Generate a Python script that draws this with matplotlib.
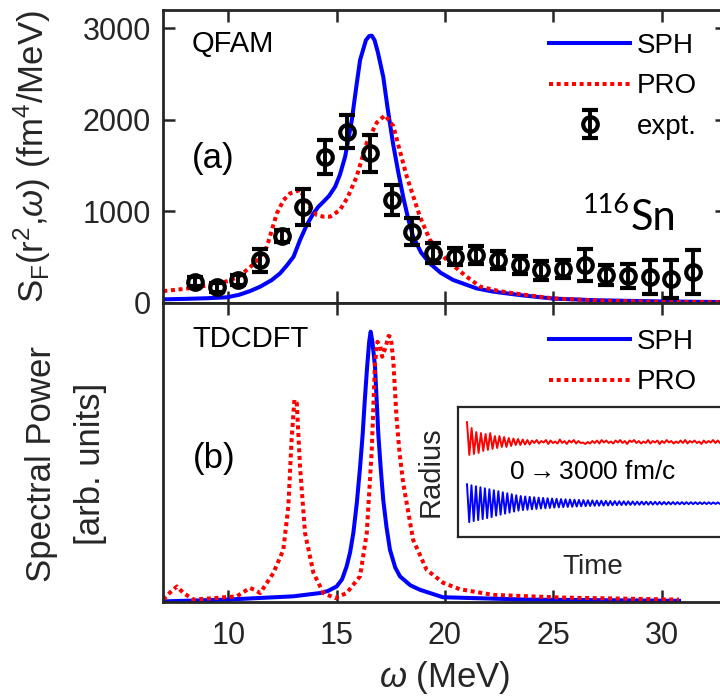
import matplotlib
matplotlib.use("Agg")
import matplotlib.pyplot as plt
import numpy as np

plt.rcParams['font.family'] = ['Liberation Sans', 'DejaVu Sans']
plt.rcParams['mathtext.fontset'] = 'custom'
plt.rcParams['mathtext.rm'] = 'Liberation Sans'
plt.rcParams['mathtext.it'] = 'Liberation Sans:italic'
plt.rcParams['mathtext.bf'] = 'Liberation Sans:bold'

# --- panel (a): QFAM strength functions and experiment ---
sph_a_x = [7.0, 8.0, 9.0, 9.93, 10.5, 11.0, 11.47, 12.0, 12.39, 12.7, 13.01, 13.31, 13.62,
           13.93, 14.15, 14.39, 14.65, 14.93, 15.15, 15.39, 15.55, 15.70, 15.9, 16.08, 16.35,
           16.5, 16.62, 16.75, 16.9, 17.15, 17.35, 17.6, 17.85, 18.07, 18.3, 18.53, 18.9,
           19.3, 19.8, 20.38, 21.45, 22.2, 23.5, 25.0, 27.0, 29.8, 33.0]
sph_a_y = [40, 45, 52, 62, 90, 130, 178, 250, 324, 410, 505, 688, 852,
           979, 1050, 1106, 1170, 1270, 1400, 1597, 1800, 1998, 2350, 2653, 2870,
           2915, 2920, 2870, 2740, 2471, 2130, 1743, 1420, 1160, 920, 724, 550,
           433, 330, 251, 160, 125, 85, 48, 30, 18, 10]

pro_a_x = [7.0, 8.0, 9.0, 10.0, 10.5, 11.0, 11.4, 11.78, 12.24, 12.55, 12.85, 13.3,
           13.77, 14.08, 14.39, 14.7, 15.15, 15.5, 15.92, 16.39, 16.85, 17.23, 17.61,
           18.23, 18.84, 19.3, 20.07, 21.0, 21.63, 22.5, 23.5, 25.0, 27.0, 30.0, 33.0]
pro_a_y = [130, 155, 190, 240, 290, 390, 480, 615, 979, 1124, 1197, 1233,
           1051, 961, 943, 943, 1015, 1150, 1379, 1750, 1970, 2050, 1935,
           1385, 945, 690, 470, 287, 178, 130, 95, 50, 28, 12, 8]

expt_x = [8.47, 9.47, 10.47, 11.47, 12.47, 13.46, 14.47, 15.47, 16.54, 17.54, 18.46, 19.45,
          20.45, 21.45, 22.45, 23.45, 24.45, 25.45, 26.45, 27.45, 28.45, 29.44, 30.44, 31.44]
expt_y = [233, 171, 251, 469, 731, 1051, 1597, 1870, 1634, 1124, 778, 543,
          505, 524, 469, 415, 355, 375, 415, 305, 295, 285, 265, 342]
expt_err = [50, 50, 55, 125, 70, 195, 185, 180, 200, 165, 145, 110,
            95, 95, 100, 100, 100, 100, 170, 110, 130, 190, 210, 240]

# --- panel (b): TDCDFT spectral power (arb. units) ---
sph_b_x = [7.0, 9.93, 13.0, 14.23, 14.6, 15.0, 15.25, 15.46, 15.62, 15.77, 15.93, 16.08,
           16.2, 16.3, 16.4, 16.5, 16.57, 16.65, 16.77, 16.85, 16.92, 17.03, 17.15, 17.3,
           17.46, 17.7, 17.92, 18.4, 18.84, 19.9, 23.76, 30.8]
sph_b_y = [0.001, 0.007, 0.018, 0.029, 0.036, 0.051, 0.075, 0.118, 0.165, 0.23, 0.33, 0.45,
           0.56, 0.676, 0.78, 0.87, 0.904, 0.87, 0.787, 0.67, 0.564, 0.45, 0.341, 0.25,
           0.174, 0.115, 0.085, 0.055, 0.04, 0.015, 0.007, 0.003]

pro_b_x = [7.0, 7.3, 7.63, 7.93, 8.4, 9.32, 10.39, 11.0, 11.2, 11.47, 12.08, 12.54, 12.77,
           12.92, 13.05, 13.16, 13.31, 13.54, 13.93, 14.39, 14.93, 15.46, 16.08, 16.39,
           16.62, 16.77, 16.88, 17.0, 17.1, 17.25, 17.4, 17.5, 17.62, 17.76, 17.9, 18.07,
           18.53, 19.15, 19.92, 20.68, 22.2, 25.3, 30.8]
pro_b_y = [0.007, 0.03, 0.051, 0.029, 0.007, 0.012, 0.018, 0.046, 0.04, 0.029, 0.096, 0.174, 0.319,
           0.542, 0.676, 0.665, 0.452, 0.23, 0.096, 0.029, 0.012, 0.029, 0.085, 0.23,
           0.508, 0.80, 0.87, 0.86, 0.82, 0.85, 0.89, 0.885, 0.80, 0.62, 0.50, 0.397,
           0.207, 0.107, 0.063, 0.042, 0.023, 0.014, 0.007]

# --- inset: radius vs time, successive extremes (deviation from mean) ---
blue_extremes = [19, -19, 18, -18, 17, -17, 16, -16, 15, -15, 14, -14,
                 13, -12.5, 12, -11.5, 11, -10.5, 10, -9.5, 9, -8.5, 8, -7.5,
                 7.2, -7, 6.8, -6.6, 6.4, -6.2, 6, -5.8, 5.6, -5.4, 5.3, -5.1, 5, -4.8,
                 4.7, -4.5, 4.4, -4.2, 4.1, -4, 3.9, -3.8, 3.7, -3.6, 3.5, -3.4, 3.3, -3.2,
                 3.1, -3.0, 2.9, -2.8, 2.8, -2.7, 2.6, -2.5, 2.5, -2.4, 2.3, -2.3, 2.2, -2.1,
                 2.1, -2.0, 2.0, -1.9, 1.9, -1.8, 1.8, -1.7, 1.7, -1.7, 1.6, -1.6, 1.6, -1.5,
                 1.5, -1.5, 1.5, -1.4, 1.4, -1.4, 1.3, -1.3, 1.3, -1.3, 1.2, -1.2, 1.2, -1.2,
                 1.1, -1.1, 1.1, -1.1, 1.0, -1.0, 1.0, -1.0, 1.0, -1.0, 0.9, -0.9, 0.9, -0.9,
                 0.9, -0.9, 0.8, -0.8, 0.8, -0.8]
red_extremes = [20, -13, 14, -12, 10, -11, 9, -9, 8, -8, 9, -7, 6, -6, 6, -5,
                5, -5, 4, -4, 3.5, -3, 3, -3, 2.5, -2.5, 2, -2.5, 1.5, -1, 2, -1.5,
                1, -0.5, 2, -2, 1.5, -1, 0.5, -1.5, 2.5, -1, 1, -2, 1.5, -0.5, 2, -1.5,
                1, -1, -0.5, -2, 0, -1.5, 1, -1, 1.5, -1.5, 2, -0.5, 1.5, -1, 0.5, -1.5,
                1.5, -0.5, 2, -1, 1, -2, 1.5, 0, 2, -1, 1, -1.5, 0.5, -1, 2, -1.5,
                1, -0.5, 1.5, -2, 1, -1, 2, -0.5, 1, -1.5, 0.5, -1, 1.5, -1, 2, -1.5,
                1, -0.5, 1.5, -1, 0.5, -2, 1.5, -1, 1, -0.5, 2, -1, 1.5, -1]
t_end = 3000  # fm/c
red_mean = 95.5
blue_mean = 34.0

BLUE = '#0000ff'
RED = '#ff0000'
AXC = '#262626'
dots = (0, (1.0, 0.9))

fig = plt.figure(figsize=(7.2, 7.0), dpi=100)
W, H = 720.0, 700.0
ax_a = fig.add_axes([163.3 / W, 1 - 303 / H, 563.4 / W, 293 / H])
ax_b = fig.add_axes([163.3 / W, 1 - 601.7 / H, 563.4 / W, 298.7 / H])

for ax in (ax_a, ax_b):
    for sp in ax.spines.values():
        sp.set_color(AXC)
        sp.set_linewidth(2.0)
    ax.tick_params(direction='in', length=8.5, width=1.8, color=AXC,
                   labelcolor=AXC, labelsize=22, top=True, right=True)
    ax.set_xlim(7, 33)
    ax.set_xticks([10, 15, 20, 25, 30])

leg_kw = dict(loc='upper left', frameon=False, fontsize=20, handlelength=2.9,
              handletextpad=0.25, labelspacing=0.52, borderpad=0, borderaxespad=0)

# panel (a)
ax_a.plot(sph_a_x, sph_a_y, color=BLUE, lw=2.9, label='SPH')
ax_a.plot(pro_a_x, pro_a_y, color=RED, lw=2.9, ls=dots, label='PRO')
ax_a.errorbar(expt_x, expt_y, yerr=expt_err, fmt='o', mfc='none', mec='k', ms=10.5,
              mew=3.0, ecolor='k', elinewidth=2.8, capsize=6, capthick=2.8,
              label='expt.', zorder=5)
ax_a.set_ylim(0, 3200)
ax_a.set_yticks([0, 1000, 2000, 3000])
ax_a.tick_params(labelbottom=False, pad=9)
ax_a.set_ylabel(r'$\mathrm{S_F(r^2{,}}\omega\mathrm{)}$ (fm$^4$/MeV)', fontsize=25, color=AXC)
ax_a.yaxis.set_label_coords(-0.196, 0.5)
ax_a.text(0.051, 0.857, 'QFAM', transform=ax_a.transAxes, fontsize=21)
ax_a.text(0.051, 0.461, '(a)', transform=ax_a.transAxes, fontsize=25)
ax_a.text(0.745, 0.307, '116', transform=ax_a.transAxes, fontsize=19.5, family='Lato')
ax_a.text(0.830, 0.249, 'Sn', transform=ax_a.transAxes, fontsize=30, family='Lato')
ax_a.legend(bbox_to_anchor=(0.6853, 0.9215), **leg_kw)

# panel (b)
ax_b.plot(sph_b_x, sph_b_y, color=BLUE, lw=2.9, label='SPH')
ax_b.plot(pro_b_x, pro_b_y, color=RED, lw=2.9, ls=dots, label='PRO')
ax_b.set_ylim(0, 1.0)
ax_b.set_yticks([])
ax_b.tick_params(pad=14)
ax_b.set_xlabel(r'$\omega$ (MeV)', fontsize=25, color=AXC, labelpad=6)
ax_b.set_ylabel('Spectral Power\n[arb. units]', fontsize=25, color=AXC, linespacing=1.6)
ax_b.yaxis.set_label_coords(-0.10, 0.46)
ax_b.text(0.051, 0.853, 'TDCDFT', transform=ax_b.transAxes, fontsize=21)
ax_b.text(0.053, 0.448, '(b)', transform=ax_b.transAxes, fontsize=25)
ax_b.legend(bbox_to_anchor=(0.6853, 0.913), **leg_kw)

# inset
ins = fig.add_axes([458.3 / W, 1 - 537 / H, (726.7 - 458.3) / W, (537 - 406.7) / H])
for sp in ins.spines.values():
    sp.set_color(AXC)
    sp.set_linewidth(1.6)
t_blue = np.linspace(0, t_end, len(blue_extremes))
t_red = np.linspace(0, t_end, len(red_extremes))
ins.plot(t_red, red_mean + np.array(red_extremes), color=RED, lw=1.4)
ins.plot(t_blue, blue_mean + np.array(blue_extremes), color=BLUE, lw=1.4)
ins.set_xlim(-103, 3079)
ins.set_ylim(0, 131)
ins.set_xticks([])
ins.set_yticks([])
ins.set_xlabel('Time', fontsize=20, color=AXC, labelpad=12)
ins.set_ylabel('Radius', fontsize=21, color=AXC, labelpad=10)
ins.text(0.5, 0.5, r'0$\rightarrow$3000 fm/c', transform=ins.transAxes, fontsize=19,
         ha='center', va='center')

fig.savefig('out.png', dpi=100)
